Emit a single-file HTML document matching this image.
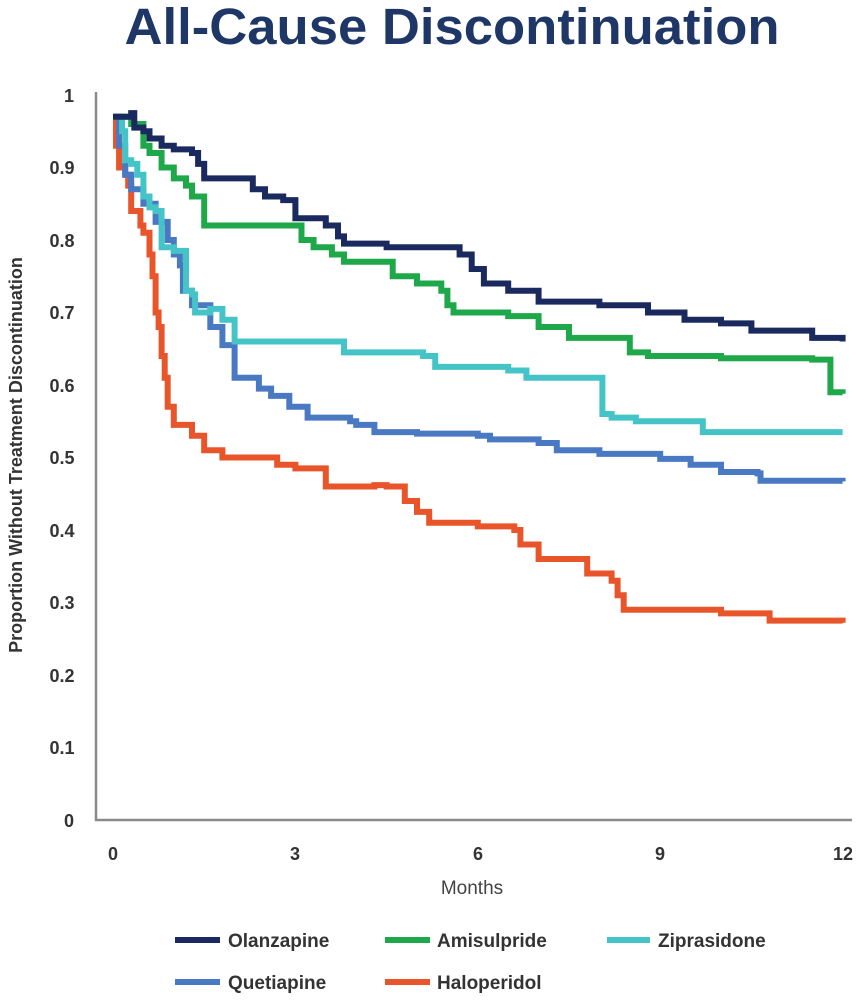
<!DOCTYPE html>
<html><head><meta charset="utf-8"><style>
body{margin:0;background:#fff;}
svg{display:block;font-family:"Liberation Sans",sans-serif;}
</style></head><body>
<svg id="c" width="864" height="1001" xmlns="http://www.w3.org/2000/svg">
<text x="452" y="44" text-anchor="middle" font-size="51" font-weight="bold" fill="#1f3766" textLength="655" lengthAdjust="spacingAndGlyphs">All-Cause Discontinuation</text>
<line x1="96" y1="92" x2="96" y2="821" stroke="#8a8a8a" stroke-width="2.5"/>
<line x1="95" y1="820" x2="852" y2="820" stroke="#8a8a8a" stroke-width="2.5"/>
<g font-size="18" font-weight="bold" fill="#333" text-anchor="middle">
<text x="69" y="102">1</text><text x="62" y="174">0.9</text><text x="62" y="247">0.8</text><text x="62" y="319">0.7</text><text x="62" y="392">0.6</text><text x="62" y="464">0.5</text><text x="62" y="537">0.4</text><text x="62" y="609">0.3</text><text x="62" y="682">0.2</text><text x="62" y="754">0.1</text><text x="69" y="827">0</text>
<text x="113" y="860">0</text><text x="295" y="860">3</text><text x="478" y="860">6</text><text x="660" y="860">9</text><text x="843" y="860">12</text>
</g>
<text x="472" y="894" text-anchor="middle" font-size="19" fill="#444">Months</text>
<text transform="translate(22,455) rotate(-90)" text-anchor="middle" font-size="18" font-weight="bold" fill="#333">Proportion Without Treatment Discontinuation</text>
<g id="series" fill="none" stroke-width="6" stroke-linejoin="miter"></g>
<g font-size="19" font-weight="bold" fill="#333">
<line x1="175" y1="940" x2="220" y2="940" stroke="#1b2a5e" stroke-width="6"/><text x="228" y="947">Olanzapine</text>
<line x1="385" y1="940" x2="430" y2="940" stroke="#1ea84a" stroke-width="6"/><text x="437" y="947">Amisulpride</text>
<line x1="607" y1="940" x2="650" y2="940" stroke="#45c4c8" stroke-width="6"/><text x="658" y="947">Ziprasidone</text>
<line x1="175" y1="982" x2="220" y2="982" stroke="#4a79c3" stroke-width="6"/><text x="228" y="989">Quetiapine</text>
<line x1="385" y1="982" x2="430" y2="982" stroke="#e8552a" stroke-width="6"/><text x="437" y="989">Haloperidol</text>
</g>
</svg>
<script>
var S=[
["#e8552a",[[0,.97],[.05,.93],[.1,.90],[.2,.89],[.25,.875],[.3,.84],[.4,.84],[.45,.82],[.5,.81],[.6,.78],[.65,.75],[.7,.70],[.75,.68],[.8,.64],[.85,.61],[.9,.57],[1,.545],[1.3,.53],[1.5,.51],[1.8,.50],[2,.50],[2.7,.49],[3,.485],[3.5,.46],[4.3,.462],[4.5,.46],[4.8,.44],[5,.425],[5.2,.41],[5.8,.41],[6,.405],[6.6,.40],[6.7,.38],[7,.36],[7.5,.36],[7.8,.34],[8.2,.33],[8.3,.31],[8.4,.29],[9,.29],[10,.285],[10.8,.285],[10.8,.275],[12,.272]]],
["#4a79c3",[[0,.97],[.1,.93],[.2,.89],[.3,.87],[.5,.85],[.7,.825],[.9,.80],[1,.78],[1.1,.765],[1.15,.73],[1.3,.71],[1.6,.68],[1.8,.655],[2,.61],[2.4,.595],[2.6,.585],[2.9,.57],[3.2,.555],[3.9,.55],[4.0,.545],[4.3,.535],[5,.533],[6,.53],[6.2,.525],[7,.52],[7.3,.51],[8,.505],[9,.498],[9.5,.49],[10,.48],[10.6,.478],[10.65,.468],[12,.467]]],
["#45c4c8",[[0,.97],[.15,.95],[.2,.93],[.2,.91],[.3,.905],[.4,.89],[.5,.86],[.6,.845],[.7,.84],[.8,.79],[1,.785],[1.2,.73],[1.3,.725],[1.35,.70],[1.6,.705],[1.8,.69],[2,.66],[3.7,.66],[3.8,.645],[5.1,.64],[5.3,.625],[6.5,.62],[6.8,.61],[8,.61],[8.05,.56],[8.2,.555],[8.5,.555],[8.6,.55],[9.6,.55],[9.7,.535],[12,.535]]],
["#1ea84a",[[0,.97],[.3,.96],[.5,.93],[.6,.92],[.8,.90],[1,.885],[1.2,.875],[1.3,.86],[1.5,.85],[1.5,.82],[3,.82],[3.1,.8],[3.3,.79],[3.6,.78],[3.8,.77],[4.5,.77],[4.6,.75],[5,.74],[5.4,.73],[5.5,.71],[5.6,.70],[6.5,.695],[7,.68],[7.5,.665],[8.5,.645],[8.8,.64],[10,.637],[11.5,.635],[11.8,.59],[12,.588]]],
["#1b2a5e",[[0,.97],[.2,.97],[.3,.975],[.35,.955],[.5,.95],[.6,.94],[.8,.93],[1,.925],[1.3,.92],[1.4,.905],[1.5,.885],[2.2,.885],[2.3,.87],[2.5,.86],[2.8,.855],[3,.83],[3.5,.82],[3.7,.805],[3.8,.795],[4.5,.79],[5,.79],[5.7,.78],[5.9,.76],[6.1,.74],[6.5,.73],[7,.715],[8,.71],[8.8,.70],[9.4,.69],[10,.685],[10.5,.675],[11.5,.665],[12,.66]]]
];
var g=document.getElementById("series"),h="";
function X(m){return (113+60.8*m).toFixed(1)}function Y(v){return (820-725*v).toFixed(1)}
S.forEach(function(s){var d=s[1],p=[X(d[0][0])+","+Y(d[0][1])];
for(var i=1;i<d.length;i++){p.push(X(d[i][0])+","+Y(d[i-1][1]));p.push(X(d[i][0])+","+Y(d[i][1]));}
h+='<polyline stroke="'+s[0]+'" points="'+p.join(" ")+'"/>';});
g.innerHTML=h;
</script>
</body></html>
